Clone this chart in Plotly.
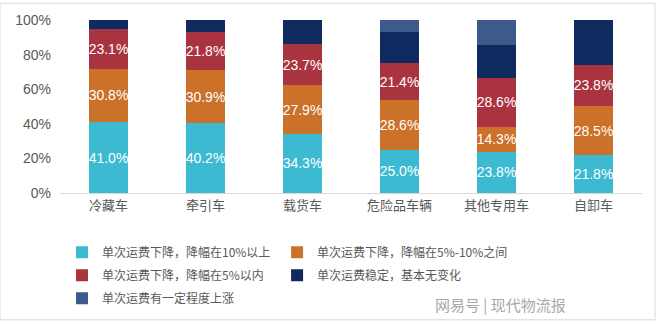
import plotly.graph_objects as go

categories = ["冷藏车", "牵引车", "载货车", "危险品车辆", "其他专用车", "自卸车"]
series_names = [
    "单次运费下降，降幅在10%以上",
    "单次运费下降，降幅在5%-10%之间",
    "单次运费下降，降幅在5%以内",
    "单次运费稳定，基本无变化",
    "单次运费有一定程度上涨",
]
s1 = [41.0, 40.2, 34.3, 25.0, 23.8, 21.8]
s2 = [30.8, 30.9, 27.9, 28.6, 14.3, 28.5]
s3 = [23.1, 21.8, 23.7, 21.4, 28.6, 23.8]
s4 = [5.1, 7.1, 14.1, 17.9, 19.0, 25.9]
s5 = [0.0, 0.0, 0.0, 7.1, 14.3, 0.0]
tick_vals = [0, 20, 40, 60, 80, 100]
tick_text = ["0%", "20%", "40%", "60%", "80%", "100%"]

colors = ["#3bbad2", "#cb7129", "#a9333f", "#0e2a5e", "#3c5a8b"]
all_series = [s1, s2, s3, s4, s5]
show_labels = [True, True, True, False, False]
legend_ids = ["legend", "legend2", "legend", "legend2", "legend"]

FONT = "Noto Sans CJK SC, Liberation Sans, Arial, sans-serif"

fig = go.Figure()
for i, (name, vals, col, lab, lg) in enumerate(zip(series_names, all_series, colors, show_labels, legend_ids)):
    fig.add_trace(go.Bar(
        x=categories, y=vals, name=name,
        marker=dict(color=col, line=dict(width=0)),
        text=[f"{v:.1f}%" for v in vals] if lab else None,
        texttemplate="%{text}" if lab else None,
        textposition="inside" if lab else "none",
        insidetextanchor="middle",
        textangle=0,
        textfont=dict(color="white", size=14, family="Liberation Sans, Arial, sans-serif"),
        hoverinfo="skip",
        legend=lg,
        legendgroup=f"g{i}",
    ))

legend_common = dict(
    orientation="v", yanchor="top", xanchor="left",
    font=dict(size=12, color="#595959", family=FONT),
    itemwidth=30, tracegroupgap=4, traceorder="grouped",
    bgcolor="rgba(0,0,0,0)",
)

fig.update_layout(
    width=660, height=324,
    barmode="stack", bargap=0.6,
    margin=dict(l=60, r=18, t=18, b=130),
    paper_bgcolor="white", plot_bgcolor="white",
    font=dict(family=FONT, color="#595959"),
    uniformtext=dict(mode="show", minsize=14),
    showlegend=True,
    legend=dict(x=0.0034, y=-0.258, **legend_common),
    legend2=dict(x=0.373, y=-0.258, **legend_common),
    xaxis=dict(
        showline=True, linecolor="#d9d9d9", linewidth=1,
        ticks="", tickfont=dict(size=13, color="#595959", family=FONT),
        showgrid=False,
    ),
    yaxis=dict(
        range=[0, 100], tickvals=tick_vals, ticktext=tick_text,
        showgrid=False, showline=False, zeroline=False,
        tickfont=dict(size=14, color="#595959", family="Liberation Sans, Arial, sans-serif"),
        ticklabelstandoff=8,
    ),
    shapes=[dict(
        type="rect", xref="paper", yref="paper",
        x0=-60/582, x1=1 + 13/582, y0=-129/176, y1=1 + 17/176,
        line=dict(color="#d9d9d9", width=1), fillcolor="rgba(0,0,0,0)",
    )],
    annotations=[dict(
        text="网易号 | 现代物流报", xref="paper", yref="paper",
        x=0.872, y=-0.642, xanchor="right", yanchor="middle", showarrow=False,
        font=dict(size=15, color="#a8a8a8", family=FONT),
    )],
)

fig.write_html("out.html")
